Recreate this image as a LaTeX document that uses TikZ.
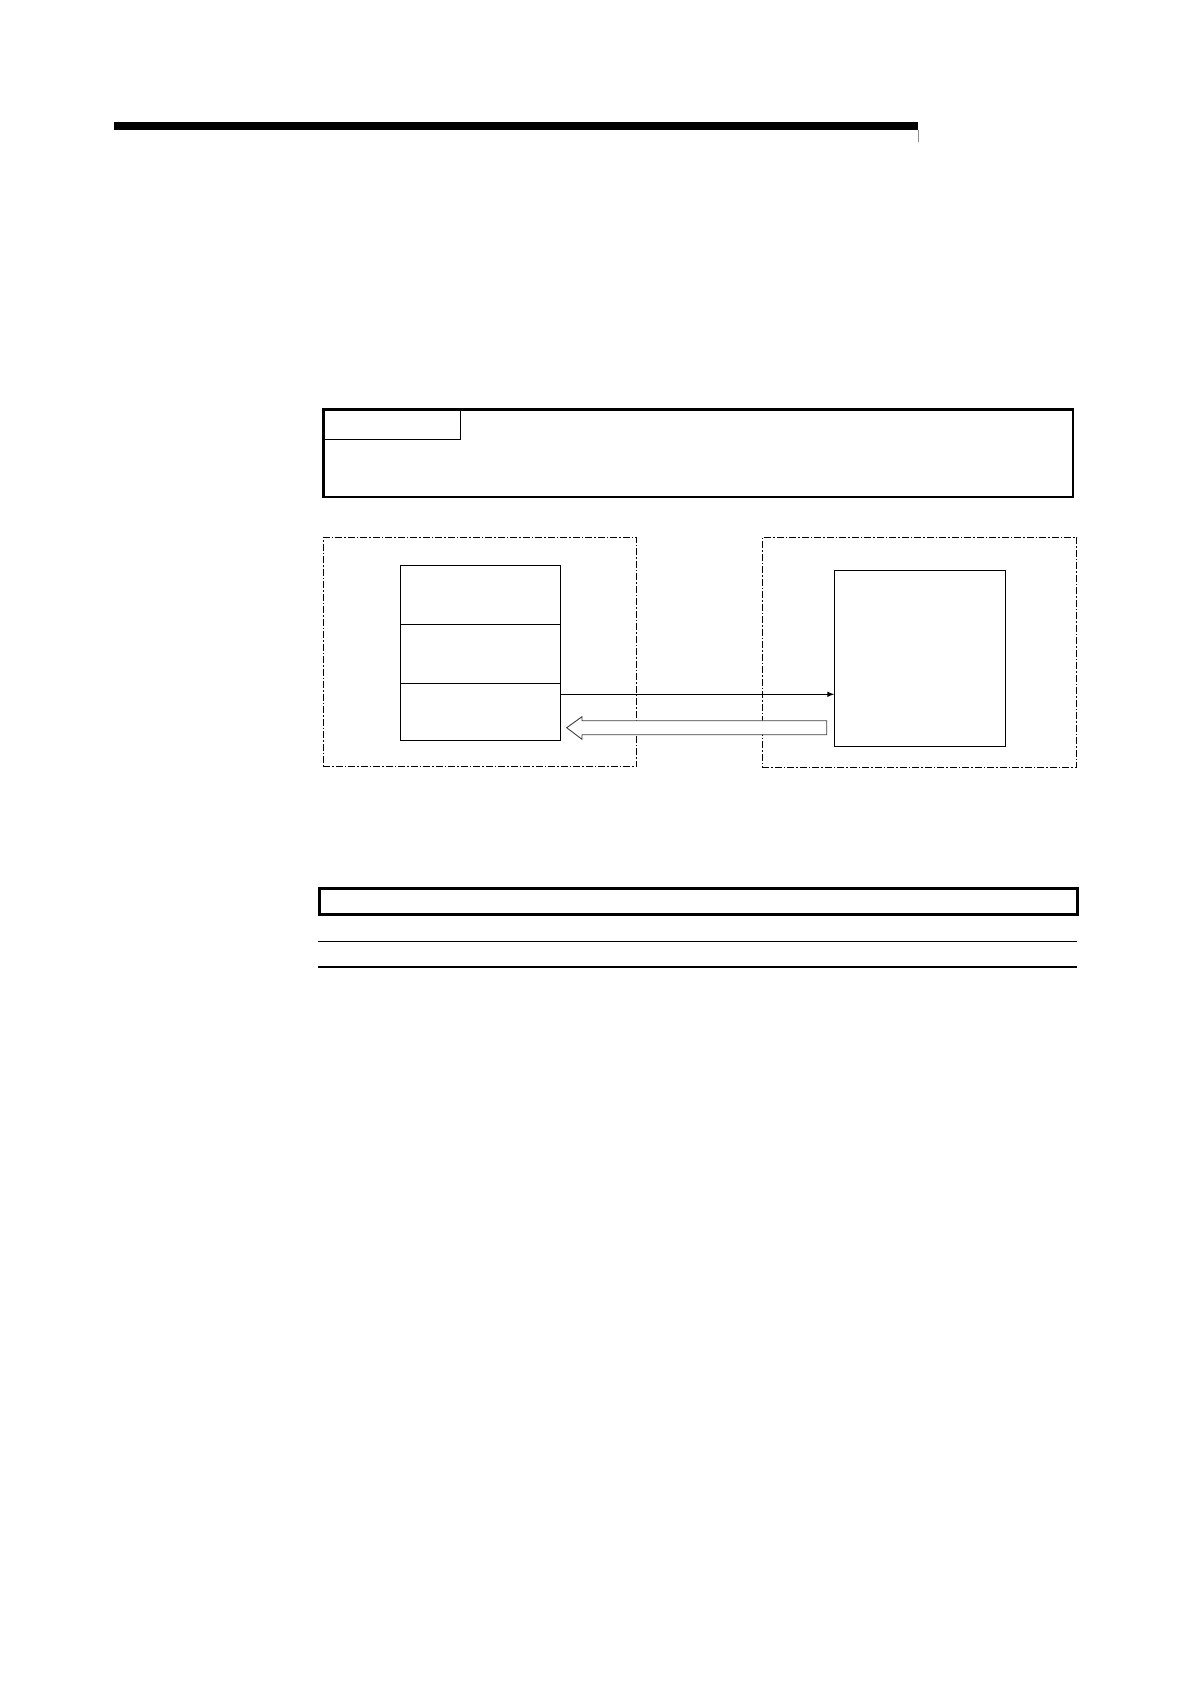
\documentclass[tikz,border=0pt]{standalone}
\usetikzlibrary{arrows.meta}
\begin{document}
\begin{tikzpicture}[x=1pt,y=-1pt,
  thinbox/.style={draw, line width=0.9pt, inner sep=0pt, outer sep=0pt, anchor=north west},
  thickbox/.style={draw, line width=2.7pt, inner sep=0pt, outer sep=0pt, anchor=north west},
  dashdotbox/.style={draw, line width=0.9pt, inner sep=0pt, outer sep=0pt, anchor=north west,
    dash pattern=on 7pt off 2pt on 1.5pt off 2pt},
  conn/.style={line width=0.9pt, -{Latex[length=7pt,width=5.5pt]}},
  hollow/.style={draw=black!75, line width=0.9pt, fill=white}
]
\useasboundingbox[fill=white] (0,0) rectangle (1190,1684);

% header bar
\fill (114,122) rectangle (918.3,130);
\draw[black!45, line width=0.6pt] (918,130) -- (918,141.7);

% upper framed box with tab
\node[thickbox, minimum width=749.7pt, minimum height=87.4pt] (frame) at (323.3,409.7) {};
\node[thinbox, minimum width=137pt, minimum height=29.6pt, anchor=north west] (tab) at (frame.north west) {};

% left dash-dot region
\node[dashdotbox, minimum width=313.4pt, minimum height=229.4pt] (lreg) at (323.3,537.3) {};
% stacked box
\node[thinbox, minimum width=160pt, minimum height=58.6pt] (s1) at (400,565.7) {};
\node[thinbox, minimum width=160pt, minimum height=59pt] (s2) at (s1.south west) {};
\node[thinbox, minimum width=160pt, minimum height=57.4pt] (s3) at (s2.south west) {};

% right dash-dot region
\node[dashdotbox, minimum width=314.4pt, minimum height=230pt] (rreg) at (762.3,537.3) {};
\node[thinbox, minimum width=170.7pt, minimum height=176.7pt] (rb) at (834.3,570) {};

% thin arrow
\coordinate (a0) at (0,694.3);
\draw[conn] (s3.east |- a0) -- (rb.west |- a0);

% hollow arrow
\draw[hollow] (826.7,720.7) -- (582,720.7) -- (582,716.7) -- (566.7,727.7)
  -- (582,739.3) -- (582,734.7) -- (826.7,734.7) -- cycle;

% lower box and rules
\node[thickbox, minimum width=758.2pt, minimum height=26pt] (lbox) at (319.3,888.3) {};
\coordinate (r1l) at (318.3,941);
\coordinate (r1r) at (1077,941);
\coordinate (r2l) at (318.3,966.7);
\coordinate (r2r) at (1077,966.7);
\draw[line width=1pt] (r1l) -- (r1r);
\draw[line width=1.8pt] (r2l) -- (r2r);
\end{tikzpicture}
\end{document}
